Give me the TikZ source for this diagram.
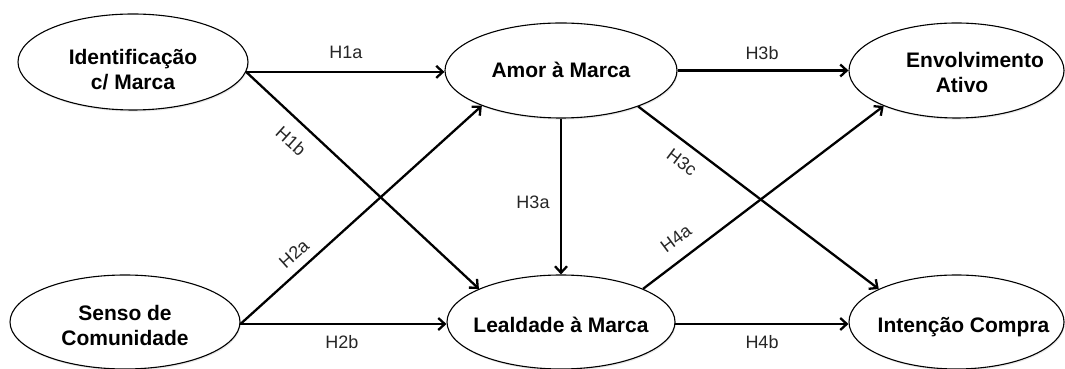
\documentclass[tikz,border=0pt]{standalone}
\usepackage{fontspec}
\setmainfont{Liberation Sans}
\usetikzlibrary{shapes.geometric,arrows.meta,shadows}
\begin{document}
\begin{tikzpicture}[x=1pt,y=1pt,
  latent/.style={ellipse,draw=black,line width=1.1pt,fill=white,inner sep=0pt,
    drop shadow={opacity=0.18,shadow xshift=0.8pt,shadow yshift=-1.6pt}},
  ctext/.style={align=center,font=\fontsize{21}{25}\selectfont\bfseries,inner sep=0pt},
  ctextone/.style={ctext,text height=15pt,text depth=0pt},
  hyp/.style={font=\fontsize{18}{21}\selectfont,inner sep=0pt,text=black!85},
  link/.style={line width=2.3pt,-{Straight Barb[length=6.5pt,width=12pt]}}]
\useasboundingbox (0,0) rectangle (1065,369);

% latent constructs
\node[latent,minimum width=230pt,minimum height=96pt] (ID) at (133,307) {};
\node[latent,minimum width=232pt,minimum height=95pt] (AM) at (561,298.5) {};
\node[latent,minimum width=215pt,minimum height=95pt] (EA) at (956.5,298.5) {};
\node[latent,minimum width=230pt,minimum height=94pt] (SC) at (125,47) {};
\node[latent,minimum width=228pt,minimum height=94pt] (LM) at (561,47) {};
\node[latent,minimum width=215pt,minimum height=94pt] (IC) at (956.5,47) {};

% construct names
\node[ctext] (IDt) at (133,299) {Identificação\\c/ Marca};
\node[ctextone] (AMt) at (561,299) {Amor à Marca};
\node[ctext] (EAt) at (975,296.5) {Envolvimento\\Ativo\hspace*{26pt}};
\node[ctext] (SCt) at (125,43.5) {Senso de\\Comunidade};
\node[ctextone] (LMt) at (561,44) {Lealdade à Marca};
\node[ctextone] (ICt) at (963.5,43.5) {Intenção Compra};

% hypothesised paths
\draw[link] (ID.-5) -- (ID.-5 -| AM.west);
\draw[link] (ID.-5) -- (LM.158);
\draw[link] (SC.-1.5) -- (AM.204);
\draw[link] (SC.-1.5) -- (SC.-1.5 -| LM.west);
\draw[link] (AM.south) -- (LM.north);
\draw[link] (AM.east) -- (EA.west);
\draw[link] (AM.-25) -- (IC.157);
\draw[link] (LM.22) -- (EA.206);
\draw[link] (LM.-1.5) -- (LM.-1.5 -| IC.west);

% path labels
\node[hyp] (h1a) at (346,317) {H1a};
\node[hyp] (h3b) at (762,316) {H3b};
\node[hyp] (h2b) at (342,27) {H2b};
\node[hyp] (h4b) at (762,27) {H4b};
\node[hyp] (h3a) at (533,167) {H3a};
\node[hyp,rotate=-42] (h1b) at (291,228) {H1b};
\node[hyp,rotate=42] (h2a) at (294,115) {H2a};
\node[hyp,rotate=-37] (h3c) at (682,207) {H3c};
\node[hyp,rotate=37] (h4a) at (676,130) {H4a};
\end{tikzpicture}
\end{document}
